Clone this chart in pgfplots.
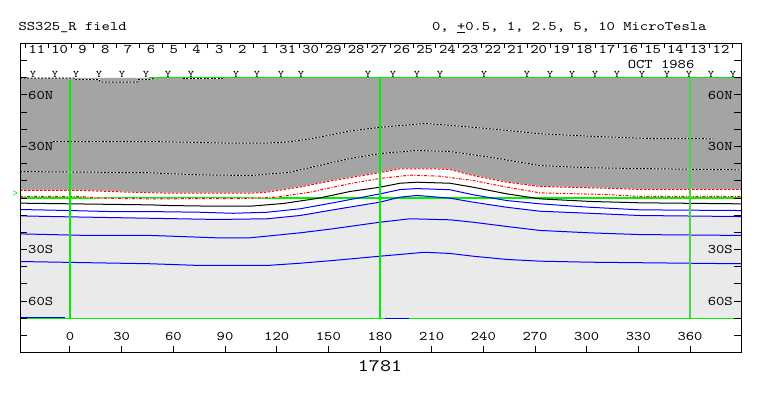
\documentclass[border=0pt]{standalone}
\usepackage{fontspec}
\setmainfont{lmmono10-regular.otf}[FakeStretch=1.2]
\usepackage{pgfplots}
\usepackage{pgfplotstable}
\usepgfplotslibrary{fillbetween}
\pgfplotsset{compat=1.18}
\definecolor{dgray}{RGB}{164,164,164}
\definecolor{lgray}{RGB}{234,234,234}
\definecolor{lgreen}{RGB}{0,240,0}
\definecolor{mgreen}{RGB}{70,215,70}
\newcommand\lab{\fontsize{13.2bp}{15bp}\selectfont}

\pgfplotstableread{
lon lat
-9.9 32.9
46.5 32.9
67 32.5
90 32.0
112 31.9
125 32.5
140 34.5
162.6 39.0
180 41.2
206 43.4
215 42.8
244 40.3
273 37.4
302 36.0
337 34.6
373.4 34.5
}\dotA
\pgfplotstableread{
lon lat
-29.03 15.4
17.4 15.0
46.5 14.7
58.1 14.1
75.5 13.5
104.5 13.1
127.7 15.0
145 19.0
162.6 23.0
180 25.9
201.5 27.7
220.6 27.1
243.9 23.8
272.9 18.9
301.9 17.6
340.8 17.0
389.6 16.4
}\dotB
\pgfplotstableread{
lon lat
-29.03 4.4
6 4.4
34.8 3.4
58.1 2.8
104.5 2.8
114.4 3.4
133.5 6.4
152.7 10.2
180 14.8
191.6 17.0
210.8 17.0
220.6 16.6
234.0 13.1
253.7 9.2
272.9 6.7
311.8 5.7
331.0 5.0
389.6 5.0
}\redA
\pgfplotstableread{
lon lat
-29.03 0.9
6 0.9
17.4 -0.1
46.5 -0.5
100 -0.3
120 0.5
139.4 3.4
162.6 8.4
180 11.4
197.4 13.3
214.8 12.7
234 10.2
253.7 6.3
272.9 3.0
311.8 2.0
331 0.9
389.6 0.9
}\redB
\pgfplotstableread{
lon lat
-29.03 -3.0
46.5 -4.0
58.1 -4.4
85.4 -4.8
104.5 -4.8
123.7 -3.2
143.4 -0.3
162.6 3.8
180 6.3
191.6 8.6
201.5 9.2
220.6 8.6
234 6.3
253.7 2.4
272.9 -0.5
301.9 -2.0
331 -2.8
389.6 -3.4
}\blk
\pgfplotstableread{
lon lat
-29.03 -6.7
0 -7.3
23 -7.9
46.5 -7.9
75.5 -8.3
94.6 -8.9
114.4 -8.3
133.5 -6.3
152.7 -2.8
180 2.4
191.6 4.9
201.5 5.5
220.6 4.8
234 1.9
253.7 -1.5
272.9 -3.4
301.9 -5.4
331 -6.9
389.6 -7.3
}\blueA
\pgfplotstableread{
lon lat
-29.03 -10.4
-10 -10.8
46.5 -11.8
85.4 -12.5
114.4 -12.1
133.5 -10.2
152.7 -6.9
180 -2.4
191.6 0.5
201.5 1.5
220.6 -0.1
234 -2.4
253.7 -5.4
272.9 -7.7
301.9 -8.9
331 -10.2
389.6 -10.8
}\blueB
\pgfplotstableread{
lon lat
-29.03 -20.9
10 -21.8
46.5 -21.8
85.4 -23.2
104.5 -23.2
133.5 -20.3
152.7 -17.9
180 -14.1
197.4 -12.1
220.6 -12.7
234 -14.1
253.7 -16.6
272.9 -18.9
301.9 -20.3
331 -21.3
389.6 -21.8
}\blueC
\pgfplotstableread{
lon lat
-29.03 -37.0
17.4 -37.8
46.5 -38.3
75.5 -39.3
114.4 -39.3
133.5 -38.0
152.7 -36.4
180 -33.9
206 -31.6
220.6 -32.3
234 -33.9
253.7 -35.8
272.9 -36.8
301.9 -37.4
331 -37.7
389.6 -38.3
}\blueD

\begin{document}
\begin{tikzpicture}
\begin{axis}[
  at={(0,0)}, anchor=south west,
  scale only axis, width=721bp, height=309bp,
  xmin=-29.03, xmax=389.6, ymin=-90, ymax=90,
  clip=false, axis on top,
  axis line style={line width=1bp},
  tick style={black, line width=1bp},
  major tick length=7bp, tick align=inside,
  xtick={0,30,...,360}, xtick pos=lower,
  xticklabels={0,30,60,90,120,150,180,210,240,270,300,330,360},
  xticklabel style={anchor=center, yshift=16bp, inner sep=0pt, font=\lab},
  ytick={-80,-70,...,80}, ytick pos=both, yticklabel pos=left,
  yticklabels={,,60S,,,30S,,,,,,30N,,,60N,,},
  yticklabel style={anchor=west, xshift=8bp, inner sep=0pt, font=\lab},
  /pgf/number format/assume math mode=true,
]
\coordinate (SW) at (rel axis cs:0,0);
\coordinate (NE) at (rel axis cs:1,1);
% fills
\addplot[name path=top, draw=none] coordinates {(-29.03,70) (389.6,70)};
\addplot[name path=bot, draw=none] coordinates {(-29.03,-70) (389.6,-70)};
\addplot[name path=ra, draw=none] table {\redA};
\addplot[name path=bb, draw=none] table {\blueB};
\addplot[dgray] fill between[of=top and ra];
\addplot[white] fill between[of=ra and bb];
\addplot[lgray] fill between[of=bb and bot];
% green frame lines
\addplot[lgreen, line width=1.2bp] coordinates {(-29.03,0) (389.6,0)};
\addplot[lgreen, line width=1.2bp] coordinates {(-29.03,-70) (389.6,-70)};
\addplot[lgreen, line width=1.2bp] coordinates {(46,70) (389.6,70)};
% top dotted contour
\addplot[white, line width=1bp] coordinates {(-29.03,69.8) (3,69.8) (3.5,68.9) (17,68.9) (17.4,67.5) (39,67.5) (39.5,69.0) (46.5,69.0) (49,69.8)};
\addplot[black, line width=1bp, dash pattern=on 2bp off 1.5bp] coordinates {(-29.03,69.8) (3,69.8) (3.5,68.9) (17,68.9) (17.4,67.5) (39,67.5) (39.5,69.0) (46.5,69.0) (49,69.8)};
\addplot[white, line width=1bp] coordinates {(65.6,69.8) (89,69.8)};
\addplot[black, line width=1bp, dash pattern=on 2bp off 1.5bp] coordinates {(65.6,69.8) (89,69.8)};
% dotted contours
\addplot[white, line width=1bp] table {\dotA};
\addplot[black, line width=1bp, dash pattern=on 2bp off 1.5bp] table {\dotA};
\addplot[white, line width=1bp] table {\dotB};
\addplot[black, line width=1bp, dash pattern=on 2bp off 1.5bp] table {\dotB};
% red contours
\addplot[white, line width=1bp] table {\redA};
\addplot[red, line width=1bp, dash pattern=on 2.5bp off 1.5bp] table {\redA};
\addplot[white, line width=1bp] table {\redB};
\addplot[red, line width=1bp, dash pattern=on 3bp off 1.5bp on 1bp off 1.5bp] table {\redB};
% solid contours
\addplot[black, line width=1bp] table {\blk};
\addplot[blue, line width=1bp] table {\blueA};
\addplot[blue, line width=1bp] table {\blueB};
\addplot[blue, line width=1bp] table {\blueC};
\addplot[blue, line width=1bp] table {\blueD};
\addplot[blue, line width=1.2bp] coordinates {(-29.03,-69.7) (-3,-69.7)};
\addplot[blue, line width=1.2bp] coordinates {(183,-70) (197,-70)};
% meridians
\addplot[lgreen, line width=1.5bp] coordinates {(0,-70) (0,69)};
\addplot[lgreen, line width=1.5bp] coordinates {(180,-70) (180,70)};
\addplot[mgreen, line width=1.2bp] coordinates {(360,-70) (360,70)};
% markers
\addplot[only marks, mark=text, text mark={Y}, text mark as node=true, text mark style={font=\fontsize{10bp}{11bp}\selectfont, inner sep=0pt}]
 coordinates {(-21.5,71.8) (-8.7,71.8) (3.5,71.8) (16.8,71.8) (30.2,71.8) (44.1,71.8) (56.9,71.8) (70.2,71.8) (96.4,71.8) (108.6,71.8) (122.5,71.8) (134.1,71.8) (173.0,71.8) (187.6,71.8) (201.5,71.8) (214.8,71.8) (240.4,71.8) (265.4,71.8) (278.7,71.8) (291.5,71.8) (304.8,71.8) (317.6,71.8) (332.1,71.8) (346.6,71.8) (359.4,71.8) (372.2,71.8) (385.0,71.8)};
\addplot[lgreen, only marks, mark=text, text mark={>}, text mark as node=true, text mark style={font=\fontsize{10bp}{11bp}\selectfont, text=lgreen, inner sep=0pt}]
 coordinates {(-31.6,2.6)};
\node[font=\lab] at (axis cs:343.2,77.8) {OCT 1986};
\node[anchor=west, font=\lab] at (axis cs:-31.9,99.3) {SS325\_R field};
\node[anchor=east, font=\lab] at (axis cs:371.6,99.3) {0, \underline{+}0.5, 1, 2.5, 5, 10 MicroTesla};
\node[font=\fontsize{17.5bp}{20bp}\selectfont] at (axis cs:180,-98.2) {1781};
\end{axis}
\begin{axis}[
  at={(0,0)}, anchor=south west,
  scale only axis, width=721bp, height=309bp,
  xmin=-29.03, xmax=389.6, ymin=-90, ymax=90,
  axis line style={draw=none},
  tick style={black, line width=1bp},
  tick align=inside,
  major tick length=0pt, minor tick length=5bp,
  xtick={-19.2,-5.96,...,379}, xtick pos=upper, xticklabel pos=upper,
  xticklabels={11,10,9,8,7,6,5,4,3,2,1,31,30,29,28,27,26,25,24,23,22,21,20,19,18,17,16,15,14,13,12},
  xticklabel style={anchor=center, yshift=-6bp, inner sep=0pt, font=\lab},
  minor xtick={-25.82,-12.58,...,385},
  ytick={-60,-30,30,60}, ytick pos=right, yticklabel pos=right,
  yticklabels={60S,30S,30N,60N},
  yticklabel style={anchor=east, xshift=-8bp, inner sep=0pt, font=\lab},
]
\addplot[draw=none] coordinates {(0,0)};
\end{axis}
\pgfresetboundingbox
\path[use as bounding box] ([shift={(-20bp,-43.5bp)}]SW) rectangle ([shift={(22bp,43.5bp)}]NE);
\end{tikzpicture}
\end{document}
